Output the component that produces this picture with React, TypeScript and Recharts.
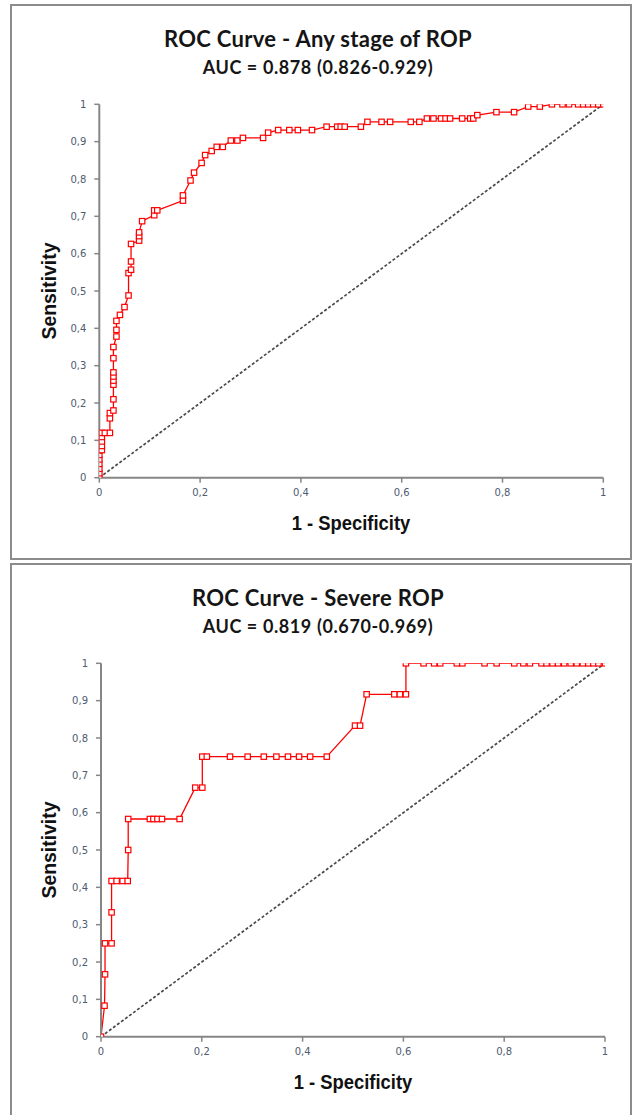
import React from "react";
import { LineChart, Line, XAxis, YAxis } from "recharts";

// ROC points: false positive rate (1 - specificity) and sensitivity.
const anyFpr = [
  0, 0, 0, 0, 0, 0, 0, 0.005, 0.005, 0.005, 0.005, 0.005, 0.011, 0.021, 0.021, 0.021,
  0.028, 0.028, 0.028, 0.028, 0.028, 0.028, 0.028, 0.028, 0.034, 0.034, 0.034, 0.041,
  0.05, 0.058, 0.058, 0.063, 0.063, 0.063, 0.079, 0.079, 0.079, 0.085, 0.109, 0.109,
  0.115, 0.166, 0.166, 0.181, 0.188, 0.203, 0.21, 0.223, 0.233, 0.245, 0.261, 0.274,
  0.285, 0.325, 0.335, 0.355, 0.377, 0.394, 0.422, 0.451, 0.472, 0.479, 0.487, 0.519,
  0.532, 0.56, 0.577, 0.618, 0.635, 0.65, 0.663, 0.678, 0.687, 0.696, 0.72, 0.736,
  0.742, 0.75, 0.788, 0.823, 0.851, 0.874, 0.898, 0.919, 0.932, 0.95, 0.96, 0.97, 0.98,
  0.99, 1,
];
const anySens = [
  0, 0.012, 0.024, 0.037, 0.049, 0.061, 0.073, 0.074, 0.085, 0.097, 0.109, 0.12, 0.12,
  0.12, 0.159, 0.173, 0.18, 0.21, 0.249, 0.26, 0.271, 0.282, 0.32, 0.35, 0.378, 0.396,
  0.42, 0.436, 0.457, 0.488, 0.548, 0.557, 0.579, 0.626, 0.635, 0.647, 0.657, 0.687,
  0.703, 0.716, 0.716, 0.742, 0.756, 0.796, 0.817, 0.843, 0.864, 0.875, 0.886, 0.886,
  0.903, 0.903, 0.91, 0.91, 0.924, 0.931, 0.931, 0.931, 0.931, 0.94, 0.94, 0.94, 0.94,
  0.94, 0.953, 0.953, 0.953, 0.953, 0.953, 0.962, 0.962, 0.962, 0.962, 0.962, 0.962,
  0.962, 0.962, 0.971, 0.979, 0.979, 0.994, 0.994, 1, 1, 1, 1, 1, 1, 1, 1, 1,
];

const severeFpr = [
  0, 0.007, 0.008, 0.008, 0.021, 0.021, 0.021, 0.031, 0.043, 0.053, 0.054, 0.054, 0.097,
  0.104, 0.112, 0.121, 0.156, 0.187, 0.201, 0.201, 0.21, 0.256, 0.291, 0.323, 0.348,
  0.371, 0.393, 0.415, 0.448, 0.504, 0.514, 0.527, 0.582, 0.593, 0.605, 0.605, 0.64,
  0.661, 0.673, 0.706, 0.717, 0.761, 0.785, 0.82, 0.838, 0.851, 0.874, 0.884, 0.896,
  0.907, 0.919, 0.932, 0.944, 0.956, 0.967, 0.977, 0.987, 1,
];
const severeSens = [
  0, 0.083, 0.167, 0.25, 0.25, 0.333, 0.417, 0.417, 0.417, 0.417, 0.5, 0.583, 0.583,
  0.583, 0.583, 0.583, 0.583, 0.667, 0.667, 0.75, 0.75, 0.75, 0.75, 0.75, 0.75, 0.75,
  0.75, 0.75, 0.75, 0.833, 0.833, 0.917, 0.917, 0.917, 0.917, 1, 1, 1, 1, 1, 1, 1, 1, 1,
  1, 1, 1, 1, 1, 1, 1, 1, 1, 1, 1, 1, 1, 1,
];

// the chance diagonal
const chance = [
  { x: 0, y: 0 },
  { x: 1, y: 1 },
];

const yTicks = [0, 0.1, 0.2, 0.3, 0.4, 0.5, 0.6, 0.7, 0.8, 0.9, 1];
const xTicks = [0, 0.2, 0.4, 0.6, 0.8, 1];

const RED = "#ff0000";
const AXIS = "#868686";
const TICK_TEXT = "#4e5b70";

const zip = (xs: number[], ys: number[]) => xs.map((x, i) => ({ x, y: ys[i] }));

// Excel-style hollow square marker.
const Square = (p: any) => {
  if (p.cx == null || p.cy == null) return <g key={p.index} />;
  return (
    <rect
      key={p.index}
      x={p.cx - 2.7}
      y={p.cy - 2.7}
      width={5.4}
      height={5.4}
      fill="#fff"
      stroke={RED}
      strokeWidth={1.2}
    />
  );
};

// Excel in a comma-decimal locale: 0,1 0,2 ...
const fmt = (v: number) => String(Math.round(v * 10) / 10).replace(".", ",");

const tickStyle = { fontFamily: "DejaVu Sans", fontSize: 10, fill: TICK_TEXT };

const axisTitle = {
  position: "absolute" as const,
  width: 200,
  textAlign: "center" as const,
  fontFamily: "Liberation Sans",
  fontWeight: 700,
  fontSize: 20,
  color: "#111",
  lineHeight: "20px",
  whiteSpace: "nowrap" as const,
};

// plot edges are given relative to the panel's top-left
function Panel({
  top,
  height,
  title,
  auc,
  data,
  plotLeft,
  plotRight,
  plotTop,
  plotBottom,
}: {
  top: number;
  height: number;
  title: string;
  auc: string;
  data: { x: number; y: number }[];
  plotLeft: number;
  plotRight: number;
  plotTop: number;
  plotBottom: number;
}) {
  return (
    <>
      <div
        style={{
          position: "absolute",
          left: 10,
          top,
          width: 618,
          height: height - 4,
          border: "2px solid #8c8c8c",
          background: "#fff",
        }}
      />
      <div style={{ position: "absolute", left: 0, top, width: 636, height }}>
        <LineChart
          width={636}
          height={height}
          margin={{
            top: plotTop,
            left: plotLeft - 40,
            right: 636 - plotRight,
            bottom: height - plotBottom - 30,
          }}
        >
          <XAxis
            type="number"
            dataKey="x"
            domain={[0, 1]}
            ticks={xTicks}
            tickFormatter={fmt}
            height={30}
            axisLine={{ stroke: AXIS, strokeWidth: 2 }}
            tickLine={{ stroke: AXIS, strokeWidth: 1.5 }}
            tickSize={5}
            tickMargin={6}
            tick={tickStyle}
            allowDataOverflow
          />
          {/* top and right edges of the plot frame */}
          <XAxis
            xAxisId="top"
            orientation="top"
            type="number"
            dataKey="x"
            domain={[0, 1]}
            height={0}
            tick={false}
            tickLine={false}
            axisLine={{ stroke: AXIS, strokeWidth: 2 }}
          />
          <YAxis
            type="number"
            domain={[0, 1]}
            ticks={yTicks}
            tickFormatter={fmt}
            width={40}
            axisLine={{ stroke: AXIS, strokeWidth: 2 }}
            tickLine={{ stroke: AXIS, strokeWidth: 1.5 }}
            tickSize={5}
            tickMargin={8}
            tick={tickStyle}
            allowDataOverflow
          />
          <YAxis
            yAxisId="right"
            orientation="right"
            type="number"
            domain={[0, 1]}
            width={0}
            tick={false}
            tickLine={false}
            axisLine={{ stroke: AXIS, strokeWidth: 2 }}
          />
          <Line
            data={chance}
            dataKey="y"
            type="linear"
            stroke="#4a4a4a"
            strokeWidth={1.7}
            strokeDasharray="3 2"
            dot={false}
            activeDot={false}
            isAnimationActive={false}
          />
          <Line
            data={data}
            dataKey="y"
            type="linear"
            stroke={RED}
            strokeWidth={1.3}
            dot={Square}
            activeDot={false}
            isAnimationActive={false}
          />
        </LineChart>
      </div>
      <div
        style={{
          position: "absolute",
          left: 0,
          width: 636,
          top: top + 22,
          textAlign: "center",
          fontFamily: "Lato",
          fontWeight: 700,
          fontSize: 22,
          letterSpacing: 0.3,
          color: "#151515",
          lineHeight: "26px",
        }}
      >
        {title}
      </div>
      <div
        style={{
          position: "absolute",
          left: 0,
          width: 636,
          top: top + 51.5,
          textAlign: "center",
          fontFamily: "Lato",
          fontWeight: 700,
          fontSize: 18,
          letterSpacing: 0.6,
          color: "#151515",
          lineHeight: "22px",
        }}
      >
        {auc}
      </div>
      <div
        style={{
          ...axisTitle,
          left: (plotLeft + plotRight) / 2 - 100,
          top: top + plotBottom + 35,
          transform: "scaleX(0.92)",
        }}
      >
        1 - Specificity
      </div>
      <div
        style={{
          ...axisTitle,
          left: 48.5 - 100,
          top: top + (plotTop + plotBottom) / 2 - 10,
          transform: "rotate(-90deg) scaleX(0.97)",
        }}
      >
        Sensitivity
      </div>
    </>
  );
}

export default function App() {
  const any = zip(anyFpr, anySens);
  const severe = zip(severeFpr, severeSens);
  return (
    <div
      style={{
        position: "absolute",
        left: 0,
        top: 0,
        width: 636,
        height: 1115,
        overflow: "hidden",
        background: "#fff",
      }}
    >
      <Panel
        top={4}
        height={556}
        title="ROC Curve - Any stage of ROP"
        auc="AUC = 0.878 (0.826-0.929)"
        data={any}
        plotLeft={99.3}
        plotRight={603.3}
        plotTop={100.3}
        plotBottom={473.7}
      />
      <Panel
        top={563}
        height={560}
        title="ROC Curve - Severe ROP"
        auc="AUC = 0.819 (0.670-0.969)"
        data={severe}
        plotLeft={101}
        plotRight={605}
        plotTop={100.3}
        plotBottom={473.7}
      />
    </div>
  );
}
